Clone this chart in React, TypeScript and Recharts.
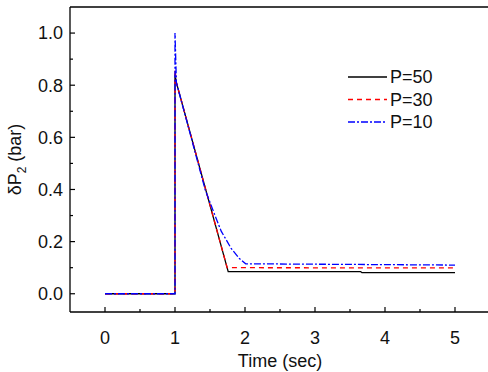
import { LineChart, Line, XAxis, YAxis, Legend } from "recharts";

const FONT = '"Liberation Sans", Arial, sans-serif';

// time (sec) / deltaP2 (bar) for each run
const timeP50 = [0, 1, 1, 1.02, 1.76, 3.65, 3.67, 5];
const valP50 = [0, 0, 0.84, 0.81, 0.085, 0.085, 0.081, 0.081];

const timeP30 = [0, 1, 1, 1.02, 1.745, 5];
const valP30 = [0, 0, 0.86, 0.81, 0.1, 0.099];

const timeP10 = [0, 1, 1, 1.02, 1.43, 1.55, 1.66, 1.8, 1.92, 2.01, 5];
const valP10 = [0, 0, 1.0, 0.81, 0.4, 0.315, 0.24, 0.175, 0.135, 0.115, 0.11];

const xTicks = [0, 0.5, 1, 1.5, 2, 2.5, 3, 3.5, 4, 4.5, 5];
const xMajor = [0, 1, 2, 3, 4, 5];
const yTicks = [0, 0.1, 0.2, 0.3, 0.4, 0.5, 0.6, 0.7, 0.8, 0.9, 1.0];
const yMajor = [0, 0.2, 0.4, 0.6, 0.8, 1.0];

const toPoints = (ts: number[], vs: number[]) => ts.map((t, i) => ({ t, v: vs[i] }));

const series = [
  { name: "P=50", data: toPoints(timeP50, valP50), color: "#000000", dash: undefined },
  { name: "P=30", data: toPoints(timeP30, valP30), color: "#ff0000", dash: "5 4" },
  { name: "P=10", data: toPoints(timeP10, valP10), color: "#0000ff", dash: "7 2 2 2" },
];

const XTick = (props: any) => {
  const { x, y, payload } = props;
  const major = xMajor.includes(payload.value);
  return (
    <g>
      <line x1={x} x2={x} y1={y} y2={y - (major ? 5 : 3)} stroke="#000" strokeWidth={1.2} />
      {major && (
        <text x={x} y={y + 32} textAnchor="middle" fontSize={18} fontFamily={FONT} fill="#111">
          {payload.value}
        </text>
      )}
    </g>
  );
};

const YTick = (props: any) => {
  const { x, y, payload } = props;
  const major = yMajor.some((m) => Math.abs(m - payload.value) < 1e-6);
  return (
    <g>
      <line x1={x} x2={x + (major ? 5 : 3)} y1={y} y2={y} stroke="#000" strokeWidth={1.2} />
      {major && (
        <text x={x - 7} y={y} dy="0.35em" textAnchor="end" fontSize={18} fontFamily={FONT} fill="#111">
          {payload.value.toFixed(1)}
        </text>
      )}
    </g>
  );
};

const LegendBox = () => (
  <svg width={130} height={70} style={{ display: "block" }}>
    {series.map((s, i) => {
      const cy = 11 + i * 22.5;
      return (
        <g key={s.name}>
          <line x1={0} x2={39} y1={cy} y2={cy} stroke={s.color} strokeWidth={1.3} strokeDasharray={s.dash} />
          <text x={42} y={cy} dy="0.35em" fontSize={18} fontFamily={FONT} fill="#111">
            {s.name}
          </text>
        </g>
      );
    })}
  </svg>
);

export default function App() {
  return (
    <div style={{ position: "absolute", left: 0, top: 0, width: 488, height: 372, overflow: "hidden", background: "#fff" }}>
      <LineChart width={500} height={372} margin={{ top: 0, right: 10, bottom: 0, left: 0 }}>
        <XAxis
          xAxisId="top"
          orientation="top"
          type="number"
          dataKey="t"
          domain={[-0.5, 5.5]}
          height={7}
          tick={false}
          tickLine={false}
          axisLine={{ stroke: "#000", strokeWidth: 1.3 }}
        />
        <XAxis
          type="number"
          dataKey="t"
          domain={[-0.5, 5.5]}
          ticks={xTicks}
          interval={0}
          height={60}
          tickSize={0}
          tickMargin={0}
          tickLine={false}
          tick={<XTick />}
          axisLine={{ stroke: "#000", strokeWidth: 1.3 }}
          label={(p: any) => {
            const vb = p?.viewBox ?? { x: 70, y: 312, width: 420 };
            return (
              <text x={vb.x + vb.width / 2} y={vb.y + 55} textAnchor="middle" fontSize={18} fontFamily={FONT} fill="#111">
                Time (sec)
              </text>
            );
          }}
        />
        <YAxis
          type="number"
          dataKey="v"
          domain={[-0.07, 1.1]}
          ticks={yTicks}
          interval={0}
          width={70}
          tickSize={0}
          tickMargin={0}
          tickLine={false}
          tick={<YTick />}
          axisLine={{ stroke: "#000", strokeWidth: 1.3 }}
          label={(p: any) => {
            const vb = p?.viewBox ?? { x: 0, y: 7, height: 305 };
            const cx = 15;
            const cy = vb.y + vb.height / 2;
            return (
              <text x={cx} y={cy} transform={`rotate(-90 ${cx} ${cy})`} textAnchor="middle" dy="0.35em" fontSize={18} fontFamily={FONT} fill="#111">
                δP
                <tspan fontSize={12} dy={5}>2</tspan>
                <tspan dy={-5}> (bar)</tspan>
              </text>
            );
          }}
        />
        <Legend
          layout="horizontal"
          align="center"
          verticalAlign="middle"
          wrapperStyle={{ left: 348, top: 66, width: 130 }}
          content={() => <LegendBox />}
        />
        {series.map((s) => (
          <Line
            key={s.name}
            data={s.data}
            dataKey="v"
            name={s.name}
            type="linear"
            stroke={s.color}
            strokeWidth={1.3}
            strokeDasharray={s.dash}
            dot={false}
            activeDot={false}
            isAnimationActive={false}
          />
        ))}
      </LineChart>
    </div>
  );
}
